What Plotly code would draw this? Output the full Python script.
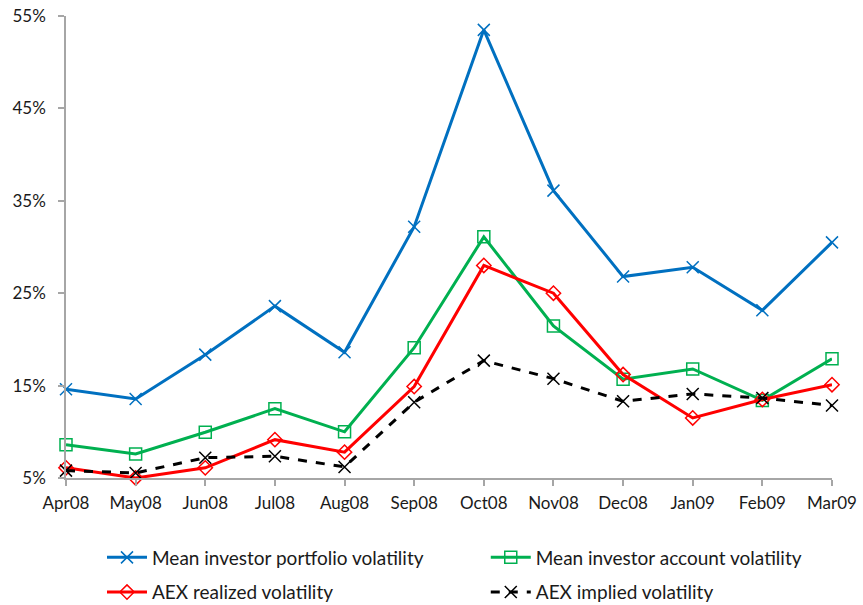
import plotly.graph_objects as go

months = ["Apr08", "May08", "Jun08", "Jul08", "Aug08", "Sep08",
          "Oct08", "Nov08", "Dec08", "Jan09", "Feb09", "Mar09"]
portfolio_vol = [14.6, 13.55, 18.35, 23.6, 18.6, 32.2, 53.5, 36.1, 26.8, 27.8, 23.15, 30.5]
account_vol = [8.6, 7.6, 9.95, 12.5, 10.0, 19.1, 31.1, 21.45, 15.7, 16.8, 13.4, 17.9]
aex_realized = [6.1, 5.0, 6.1, 9.15, 7.8, 14.9, 28.0, 25.0, 16.2, 11.5, 13.5, 15.1]
aex_implied = [5.8, 5.55, 7.2, 7.35, 6.2, 13.2, 17.7, 15.75, 13.3, 14.1, 13.65, 12.85]
y_ticks = [5, 15, 25, 35, 45, 55]

FONT = "Lato"
TXT = "#1a1a1a"

fig = go.Figure()
fig.add_trace(go.Scatter(
    x=months, y=portfolio_vol, name="Mean investor portfolio volatility",
    mode="lines+markers", cliponaxis=False, legend="legend", legendgroup="a",
    line=dict(color="#0070C0", width=3),
    marker=dict(symbol="x-thin-open", size=12, line=dict(color="#0070C0", width=1.5))))
fig.add_trace(go.Scatter(
    x=months, y=account_vol, name="Mean investor account volatility",
    mode="lines+markers", cliponaxis=False, legend="legend2", legendgroup="b",
    line=dict(color="#00B050", width=3),
    marker=dict(symbol="square-open", size=12, color="#00B050", line=dict(color="#00B050", width=1.5))))
fig.add_trace(go.Scatter(
    x=months, y=aex_realized, name="AEX realized volatility",
    mode="lines+markers", cliponaxis=False, legend="legend", legendgroup="c",
    line=dict(color="#FF0000", width=3),
    marker=dict(symbol="diamond-open", size=11, color="#FF0000", line=dict(color="#FF0000", width=1.5))))
fig.add_trace(go.Scatter(
    x=months, y=aex_implied, name="AEX implied volatility",
    mode="lines+markers", cliponaxis=False, legend="legend2", legendgroup="d",
    line=dict(color="#000000", width=3, dash="dash"),
    marker=dict(symbol="x-thin-open", size=12, line=dict(color="#000000", width=1.5))))

legend_common = dict(
    orientation="v", xanchor="left", y=-0.131, yanchor="top",
    font=dict(family=FONT, size=19, color=TXT),
    tracegroupgap=7, itemwidth=40, bgcolor="rgba(0,0,0,0)",
)

fig.update_layout(
    width=863, height=605,
    margin=dict(l=66, r=31, t=16, b=127, autoexpand=False),
    paper_bgcolor="white", plot_bgcolor="white",
    font=dict(family=FONT, size=17, color=TXT),
    showlegend=True,
    legend=dict(x=0.047, **legend_common),
    legend2=dict(x=0.548, **legend_common),
)
fig.update_xaxes(
    type="category", range=[0, 11], showgrid=False, zeroline=False,
    showline=True, linecolor="#A6A6A6", linewidth=1.5,
    ticks="outside", ticklen=6, tickcolor="#A6A6A6", tickwidth=1.5,
    tickfont=dict(family=FONT, size=17, color=TXT),
    ticklabelstandoff=3, ticklabeloverflow="allow",
)
fig.update_yaxes(
    range=[5, 55], tickvals=y_ticks, ticktext=[f"{v}%" for v in y_ticks],
    showgrid=False, zeroline=False,
    showline=True, linecolor="#A6A6A6", linewidth=1.5,
    ticks="outside", ticklen=6, tickcolor="#A6A6A6", tickwidth=1.5,
    tickfont=dict(family=FONT, size=17, color=TXT),
    ticklabelstandoff=9, ticklabeloverflow="allow",
)

# remove the default 8px page margin so the 863x605 figure fills the window
fig.write_html("out.html", config={"displayModeBar": False},
               post_script="document.body.style.margin='0';")
